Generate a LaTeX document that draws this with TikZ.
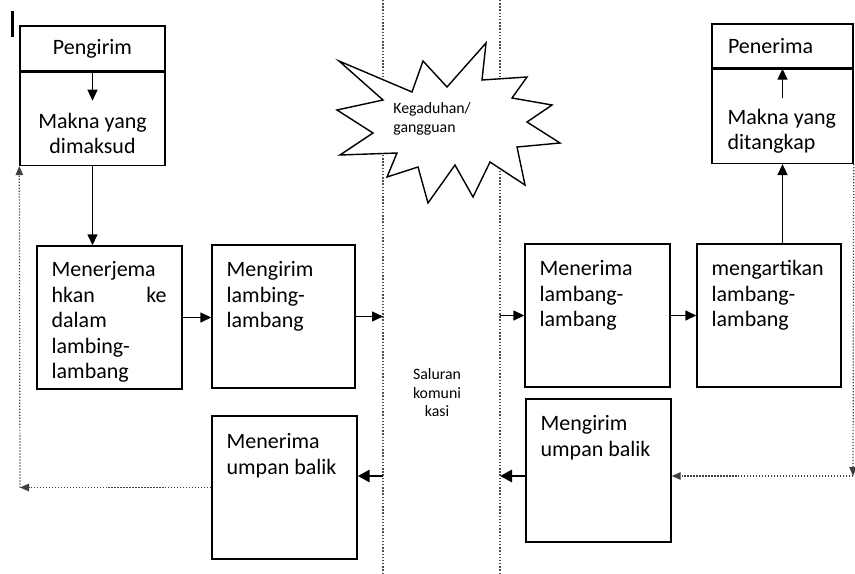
\documentclass[tikz,border=0pt]{standalone}
\usepackage{fontspec}
\setmainfont{Carlito}
\usetikzlibrary{arrows.meta,positioning,calc}

\tikzset{
  box/.style={draw, line width=0.8pt, minimum width=2.9cm, minimum height=2.86cm, inner sep=0pt},
  head/.style={draw, line width=0.8pt, minimum width=2.9cm, inner sep=0pt, font=\fontsize{12.5}{14.5}\selectfont},
  txt/.style={anchor=north west, inner sep=0pt, align=left, font=\fontsize{12.5}{14.5}\selectfont},
  small/.style={inner sep=0pt, font=\fontsize{9}{10.5}\selectfont},
  arr/.style={line width=0.8pt, -{Triangle[length=2.2mm,width=2mm]}},
  backarr/.style={line width=1.6pt, -{Triangle[length=2.4mm,width=2.4mm]}},
  fb/.style={densely dotted, line width=0.7pt, black!75, -{Triangle[length=1.8mm,width=1.5mm]}},
  channel/.style={densely dotted, line width=0.8pt, black!70},
}

\begin{document}
\begin{tikzpicture}
  \useasboundingbox (0,0) rectangle (17.1,-11.46);

  % cursor mark
  \draw[line width=0.06cm] (0.24,-0.22) -- (0.24,-0.74);

  % sender side
  \node[head, minimum height=0.9cm] (sender) at (1.85,-0.97) {Pengirim};
  \node[draw, line width=0.8pt, minimum width=2.9cm, minimum height=1.86cm, below=0pt of sender] (meant) {};
  \node[txt, anchor=north, align=center] (meanttxt) at ([yshift=-0.82cm]sender.south) {Makna yang\\dimaksud};

  \node[box] (trans) at (2.19,-6.35) {};
  \node[txt, text width=2.3cm] (transtxt) at ([shift={(0.3,-0.32)}]trans.north west) {Menerjema\\hkan\hfill ke\\dalam\\lambing-\\lambang};

  \node[box, minimum width=2.86cm] (sendsym) at (5.67,-6.33) {};
  \node[txt] (sendsymtxt) at ([shift={(0.3,-0.34)}]sendsym.north west) {Mengirim\\lambing-\\lambang};

  \node[box] (fbrecv) at (5.69,-9.75) {};
  \node[txt] (fbrecvtxt) at ([shift={(0.3,-0.36)}]fbrecv.north west) {Menerima\\umpan balik};

  % channel
  \coordinate (chL) at (7.66,0);
  \coordinate (chR) at (10,0);
  \draw[channel] (chL) -- ++(0,-11.46);
  \draw[channel] (chR) -- ++(0,-11.46);
  \node[small, align=center] (channame) at (8.74,-7.86) {Saluran\\komuni\\kasi};

  % noise
  \draw[line width=0.8pt, fill=white] (6.78,-1.22) -- (8.24,-1.84) -- (8.46,-1.22) -- (8.94,-1.74)
    -- (9.72,-0.86) -- (9.64,-1.6) -- (10.54,-1.54) -- (10.24,-1.96) -- (11.04,-2.1)
    -- (10.54,-2.44) -- (11.2,-2.86) -- (10.34,-2.94) -- (10.5,-3.7) -- (9.8,-3.24)
    -- (9.46,-3.94) -- (9.1,-3.3) -- (8.56,-4.06) -- (8.36,-3.34) -- (7.74,-3.54)
    -- (7.94,-3.06) -- (6.8,-3.1) -- (7.46,-2.66) -- (6.74,-2.2) -- (7.66,-2.0) -- cycle;
  \node[small, align=left, anchor=west] (noise) at (7.86,-2.38) {Kegaduhan/\\gangguan};

  % receiver side
  \node[box] (recvsym) at (11.95,-6.31) {};
  \node[txt] (recvsymtxt) at ([shift={(0.3,-0.34)}]recvsym.north west) {Menerima\\lambang-\\lambang};

  \node[box, minimum width=2.88cm] (interp) at (15.38,-6.31) {};
  \node[txt] (interptxt) at ([shift={(0.3,-0.34)}]interp.north west) {mengartikan\\lambang-\\lambang};

  \node[head, minimum width=2.82cm, minimum height=0.88cm, text width=2.18cm, align=left, inner xsep=0.32cm] (receiver) at (15.65,-0.92) {Penerima};
  \node[draw, line width=0.8pt, minimum width=2.82cm, minimum height=1.88cm, below=0pt of receiver] (caught) {};
  \node[txt] (caughttxt) at ([shift={(0.32,-0.8)}]caught.north west) {Makna yang\\ditangkap};

  \node[box] (fbsend) at (11.97,-9.41) {};
  \node[txt] (fbsendtxt) at ([shift={(0.3,-0.34)}]fbsend.north west) {Mengirim\\umpan balik};

  % forward arrows
  \draw[arr] (sender.south) -- ([yshift=0.24cm]meanttxt.north);
  \draw[arr] (meant.south) -- (meant.south |- trans.north);
  \draw[arr] (trans.east) -- (trans.east -| sendsym.west);
  \draw[arr] (sendsym.east) -- (sendsym.east -| chL);
  \draw[arr] (recvsym.west -| chR) -- (recvsym.west);
  \draw[arr] (recvsym.east) -- (recvsym.east -| interp.west);
  \draw[arr] (interp.north -| caught.south) -- (caught.south);
  \draw[arr] ([yshift=0.22cm]caughttxt.north -| caught.north) -- (caught.north);

  % feedback
  \draw[backarr] ([yshift=-0.11cm]fbsend.west) -- ([yshift=-0.11cm]fbsend.west -| chR);
  \draw[backarr] ([yshift=0.23cm]fbrecv.east -| chL) -- ([yshift=0.23cm]fbrecv.east);
  \coordinate (fbL) at (0.4,-9.75);
  \draw[fb] (fbrecv.west) -- (fbL);
  \draw[fb] (fbL) -- (meant.south west);
  \coordinate (fbR) at (17.06,-9.52);
  \draw[fb] (caught.south east) -- (fbR);
  \draw[fb] (fbR) -- (fbR -| fbsend.east);
\end{tikzpicture}
\end{document}
